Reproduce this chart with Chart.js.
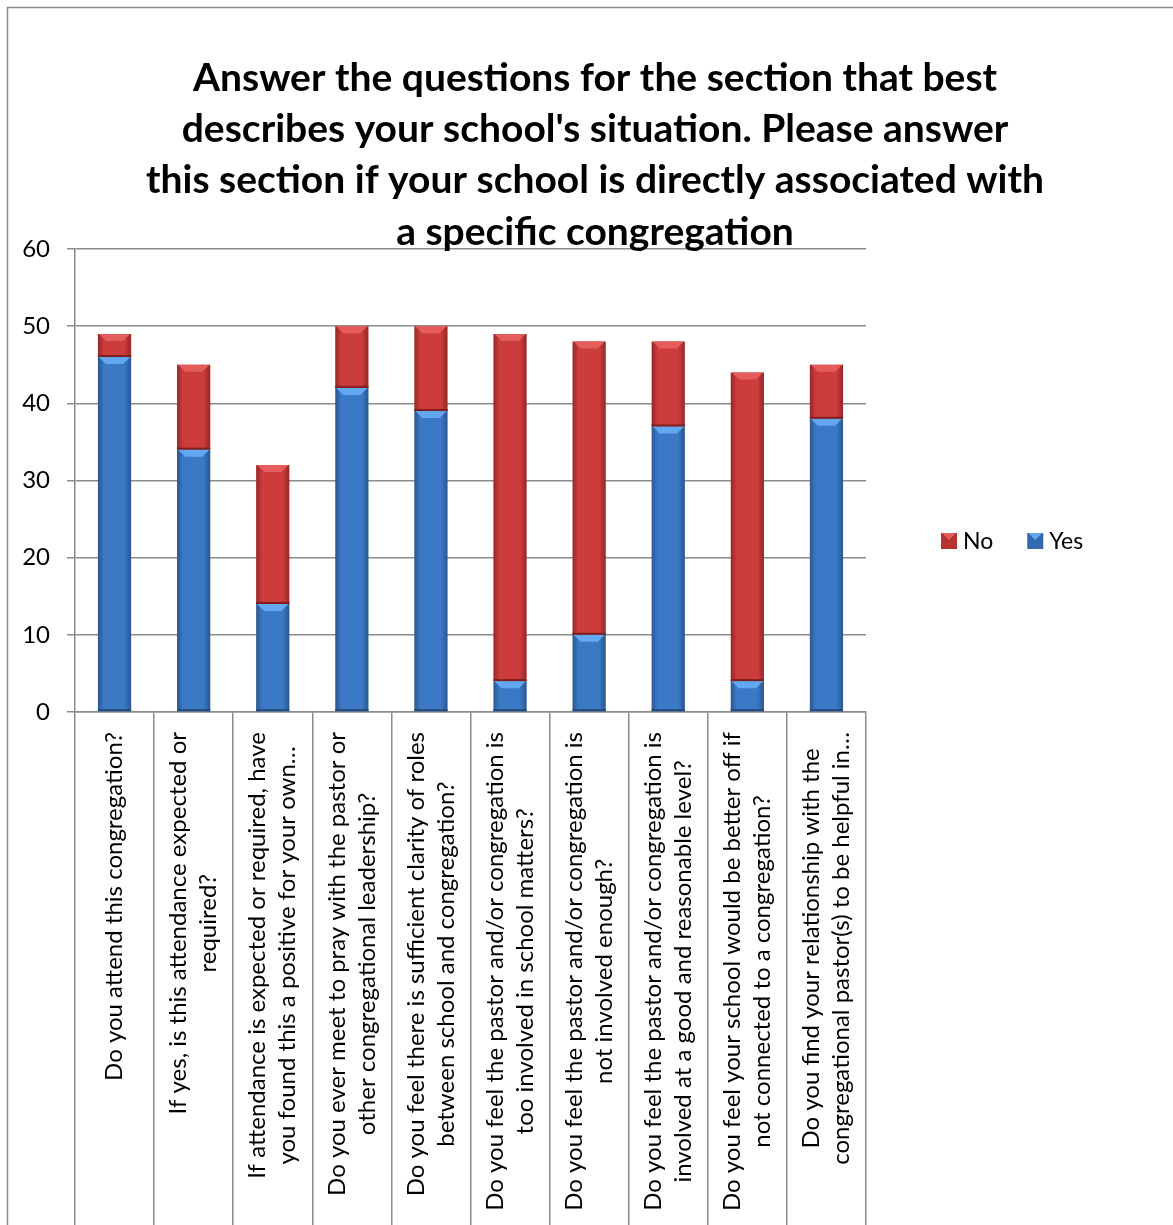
<!DOCTYPE html>
<html>
<head>
<meta charset="utf-8">
<title>School and congregation survey</title>
<script src="https://cdn.jsdelivr.net/npm/chart.js@4.4.0/dist/chart.umd.min.js"></script>
<style>
  body { margin: 0; background: #fff; }
  #wrap { position: relative; width: 1173px; height: 1225px; }
</style>
</head>
<body>
<div id="wrap"><canvas id="surveyChart"></canvas></div>
<script>
// Survey questions (one array of lines per category)
const questions = [
    ['Do you attend this congregation?'],
    ['If yes, is this attendance expected or', 'required?'],
    ['If attendance is expected or required, have', 'you found this a positive for your own\u2026'],
    ['Do you ever meet to pray with the pastor or', 'other congregational leadership?'],
    ['Do you feel there is sufficient clarity of roles', 'between school and congregation?'],
    ['Do you feel the pastor and/or congregation is', 'too involved in school matters?'],
    ['Do you feel the pastor and/or congregation is', 'not involved enough?'],
    ['Do you feel the pastor and/or congregation is', 'involved at a good and reasonable level?'],
    ['Do you feel your school would be better off if', 'not connected to a congregation?'],
    ['Do you find your relationship with the', 'congregational pastor(s) to be helpful in\u2026']
];
const yesCounts = [46, 34, 14, 42, 39, 4, 10, 37, 4, 38];
const noCounts  = [3, 11, 18, 8, 11, 45, 38, 11, 40, 7];
const yMin = 0, yMax = 60, yStep = 10;

const chartTitle = [
    'Answer the questions for the section that best',
    "describes your school's situation. Please answer",
    'this section if your school is directly associated with',
    'a specific congregation'
];

const FONT = 'Lato, "Open Sans", sans-serif';
const BAR_PCT = 0.42;
const AXIS_GRAY = '#8c8c8c';

// horizontal shading so each bar looks rounded
function barFill(dark, mid) {
    return (c) => {
        const chart = c.chart;
        const xs = chart.scales.x;
        if (!chart.chartArea || !xs || c.dataIndex === undefined) return mid;
        const cx = xs.getPixelForValue(c.dataIndex);
        const half = xs.width / questions.length * BAR_PCT / 2;
        const g = chart.ctx.createLinearGradient(cx - half, 0, cx + half, 0);
        g.addColorStop(0, dark);
        g.addColorStop(0.18, mid);
        g.addColorStop(0.8, mid);
        g.addColorStop(1, dark);
        return g;
    };
}

// bevel highlight at the top of every segment
const bevelPlugin = {
    id: 'bevel',
    afterDatasetsDraw(chart) {
        const ctx = chart.ctx;
        ctx.save();
        chart.data.datasets.forEach((ds, di) => {
            chart.getDatasetMeta(di).data.forEach(bar => {
                const { x, y, base, width } = bar.getProps(['x', 'y', 'base', 'width'], true);
                const l = x - width / 2, r = x + width / 2;
                const h = Math.min(7, Math.abs(base - y) / 2);
                ctx.fillStyle = ds.bevelLight;
                ctx.beginPath();
                ctx.moveTo(l + 1, y);
                ctx.lineTo(r - 1, y);
                ctx.lineTo(r - h - 1, y + h);
                ctx.lineTo(l + h + 1, y + h);
                ctx.closePath();
                ctx.fill();
                ctx.fillStyle = ds.bevelDark;
                ctx.fillRect(l, base - 2, width, 2);
            });
        });
        ctx.restore();
    }
};

// rotated multi-line category labels, lines centred on each other
const categoryLabels = {
    id: 'categoryLabels',
    afterDraw(chart) {
        const ctx = chart.ctx;
        const xs = chart.scales.x;
        ctx.save();
        ctx.font = '24px ' + FONT;
        ctx.fillStyle = '#000';
        ctx.textAlign = 'center';
        ctx.textBaseline = 'middle';
        questions.forEach((lines, i) => {
            const cx = xs.getPixelForValue(i);
            const widest = Math.max(...lines.map(s => ctx.measureText(s).width));
            ctx.save();
            ctx.translate(cx, xs.top + 20);
            ctx.rotate(-Math.PI / 2);
            lines.forEach((s, k) => ctx.fillText(s, -widest / 2, (k - (lines.length - 1) / 2) * 30));
            ctx.restore();
        });
        ctx.restore();
    }
};

// title centred on the whole frame, last line running into the plot
const frameTitle = {
    id: 'frameTitle',
    afterDraw(chart) {
        const ctx = chart.ctx;
        ctx.save();
        ctx.font = 'bold 39px ' + FONT;
        ctx.fillStyle = '#000';
        ctx.textAlign = 'center';
        ctx.textBaseline = 'alphabetic';
        const cx = (7 + chart.width + 10) / 2;
        chartTitle.forEach((s, k) => ctx.fillText(s, cx, 91 + k * 51.2));
        ctx.restore();
    }
};

// legend on the right, items side by side (No first)
const sideLegend = {
    id: 'sideLegend',
    afterDraw(chart) {
        const ctx = chart.ctx;
        const items = chart.data.datasets.slice().reverse();
        let x = chart.chartArea.right + 75;
        const y = 541;
        ctx.save();
        ctx.font = '23px ' + FONT;
        ctx.textBaseline = 'middle';
        ctx.textAlign = 'left';
        items.forEach(ds => {
            ctx.fillStyle = ds.legendColor;
            ctx.fillRect(x, y - 8, 16, 16);
            ctx.fillStyle = ds.bevelLight;
            ctx.beginPath();
            ctx.moveTo(x + 1, y - 8);
            ctx.lineTo(x + 15, y - 8);
            ctx.lineTo(x + 8, y - 1);
            ctx.closePath();
            ctx.fill();
            ctx.fillStyle = '#000';
            ctx.fillText(ds.label, x + 22, y + 1);
            x += 22 + ctx.measureText(ds.label).width + 34;
        });
        ctx.restore();
    }
};

// outer frame of the chart
const frame = {
    id: 'frame',
    beforeDraw(chart) {
        const ctx = chart.ctx;
        ctx.save();
        ctx.strokeStyle = '#8c8c8c';
        ctx.lineWidth = 1.5;
        ctx.strokeRect(7.5, 7.5, chart.width + 10, chart.height + 10);
        ctx.restore();
    }
};

const ctx = document.getElementById('surveyChart').getContext('2d');
const surveyChart = new Chart(ctx, {
    type: 'bar',
    data: {
        labels: questions,
        datasets: [
            {
                label: 'Yes',
                data: yesCounts,
                backgroundColor: barFill('#2a568e', '#3b78c6'),
                legendColor: '#3468ad',
                bevelLight: '#62a8f0',
                bevelDark: '#23497a',
                borderWidth: 0,
                barPercentage: BAR_PCT,
                categoryPercentage: 1
            },
            {
                label: 'No',
                data: noCounts,
                backgroundColor: barFill('#962626', '#cc3c3c'),
                legendColor: '#b83232',
                bevelLight: '#e45c5c',
                bevelDark: '#7e1e1e',
                borderWidth: 0,
                barPercentage: BAR_PCT,
                categoryPercentage: 1
            }
        ]
    },
    options: {
        responsive: true,
        maintainAspectRatio: false,
        animation: false,
        layout: {
            padding: { left: 0, right: 307, top: 249, bottom: 0 }
        },
        scales: {
            x: {
                stacked: true,
                offset: true,
                grid: {
                    offset: true,
                    drawOnChartArea: false,
                    drawTicks: true,
                    tickLength: 513,
                    color: AXIS_GRAY,
                    lineWidth: 1.5
                },
                border: { color: AXIS_GRAY, width: 1.5 },
                ticks: { display: false },
                afterFit: (s) => { s.height = 513; }
            },
            y: {
                stacked: true,
                min: yMin,
                max: yMax,
                ticks: {
                    stepSize: yStep,
                    color: '#000',
                    padding: 17,
                    font: { family: FONT, size: 24 }
                },
                grid: {
                    color: AXIS_GRAY,
                    lineWidth: 1.5,
                    tickLength: 8
                },
                border: { color: AXIS_GRAY, width: 1.5 },
                afterFit: (s) => { s.width = 75; }
            }
        },
        plugins: {
            legend: { display: false },
            tooltip: { enabled: false },
            title: { display: false }
        }
    },
    plugins: [frame, bevelPlugin, categoryLabels, frameTitle, sideLegend]
});
</script>
</body>
</html>
